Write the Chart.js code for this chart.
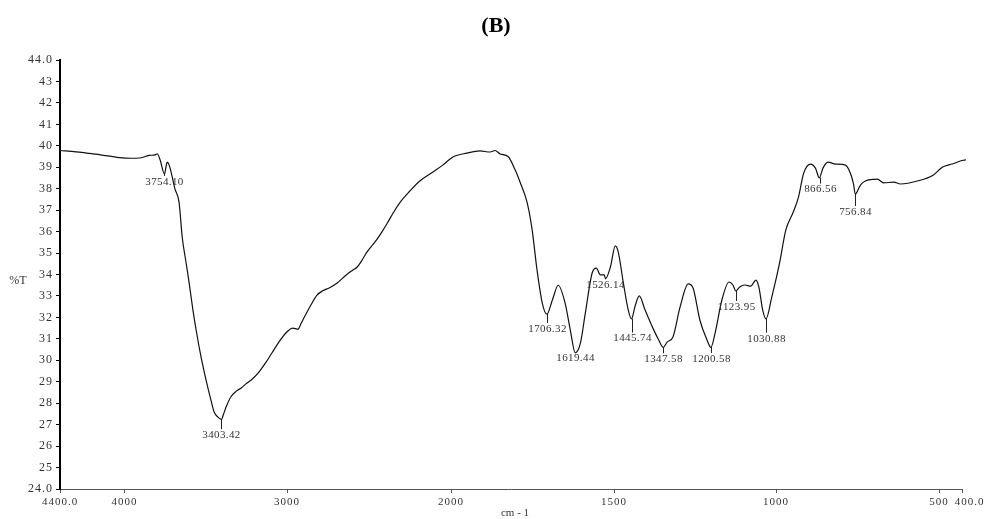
<!DOCTYPE html>
<html><head><meta charset="utf-8">
<script src="https://cdn.jsdelivr.net/npm/chart.js@4.4.1/dist/chart.umd.min.js"></script>
<style>html,body{margin:0;padding:0;background:#fff}#wrap{width:985px;height:519px;position:relative}</style>
</head><body><div id="wrap"><canvas id="c" width="985" height="519"></canvas></div>
<script>
const wavenumbers=[4400,4300,4234,4150,4032,3960,3909,3848,3810,3799,3781,3754,3745,3738,3725,3714,3690,3664,3645,3620,3602,3580,3559,3530,3498,3470,3449,3425,3403,3390,3376,3345,3314,3280,3253,3210,3173,3130,3093,3050,3001,2965,2933,2915,2897,2860,2817,2780,2743,2694,2639,2600,2572,2540,2517,2455,2420,2388,2350,2314,2250,2192,2110,2050,1994,1951,1911,1880,1865,1849,1825,1803,1788,1766,1751,1736,1720,1706,1689,1671,1650,1634,1619,1603,1588,1567,1554,1542,1530,1526,1511,1496,1487,1471,1456,1446,1434,1422,1404,1380,1362,1348,1336,1318,1296,1271,1256,1235,1213,1201,1188,1167,1145,1133,1124,1112,1096,1078,1062,1053,1041,1031,1013,989,970,947,931,915,894,879,867,856,840,818,787,772,762,757,741,726,689,670,639,618,566,517,486,443,383,357];
const transmittance=[39.78,39.72,39.66,39.58,39.45,39.42,39.43,39.55,39.58,39.63,39.35,38.68,39.0,39.24,39.1,38.8,38.0,37.35,35.75,34.5,33.6,32.4,31.4,30.2,29.08,28.2,27.6,27.35,27.25,27.5,27.8,28.3,28.55,28.72,28.9,29.15,29.45,29.9,30.34,30.85,31.32,31.5,31.45,31.7,31.97,32.5,33.04,33.25,33.37,33.6,33.98,34.2,34.35,34.7,35.0,35.6,36.0,36.4,36.9,37.33,37.9,38.35,38.78,39.1,39.48,39.66,39.76,39.71,39.78,39.62,39.5,38.87,38.3,37.33,36.07,34.2,32.67,32.15,32.81,33.5,32.67,31.41,30.35,30.8,32.2,34.07,34.3,33.98,33.98,33.8,34.35,35.33,35.05,33.6,32.34,31.93,32.58,33.0,32.34,31.5,30.95,30.6,30.85,31.09,32.49,33.56,33.37,31.88,30.95,30.6,31.27,32.81,33.65,33.51,33.23,33.42,33.51,33.46,33.74,33.42,32.34,31.93,32.95,34.54,36.07,36.91,37.61,38.73,39.15,38.96,38.5,38.96,39.24,39.15,39.1,38.73,38.2,37.75,38.17,38.36,38.45,38.27,38.31,38.22,38.36,38.64,39.0,39.15,39.34,39.0];
const peakWavenumbers=[3754.10,3403.42,1706.32,1619.44,1526.14,1445.74,1347.58,1200.58,1123.95,1030.88,866.56,756.84];
const peakLabels=['3754.10','3403.42','1706.32','1619.44','1526.14','1445.74','1347.58','1200.58','1123.95','1030.88','866.56','756.84'];
const xTickValues=[4400,4000,3000,2000,1500,1000,500,400];
const xTickLabels=['4400.0','4000','3000','2000','1500','1000','500','400.0'];
const yMin=24, yMax=44;
const titleText='(B)', yTitle='%T', xTitle='cm - 1';

// style: label offsets below each marked minimum (px)
const labelOffsets=[8,16,15,6,6,20,12,12,16,20,12,18];
// axis breaks: relative positions of the wavenumber ticks along the x axis
const axisKnotsW=[4400,4000,3000,2000,1500,1000,500,400];
const axisKnotsU=[0,64.5,227,391,554,716,879,902];
function toU(w){
  for(let i=0;i<axisKnotsW.length-1;i++){
    const a=axisKnotsW[i],b=axisKnotsW[i+1];
    if(w<=a&&w>=b){return axisKnotsU[i]+(a-w)/(a-b)*(axisKnotsU[i+1]-axisKnotsU[i]);}
  }
  const n=axisKnotsW.length-1;
  const s=(axisKnotsU[n]-axisKnotsU[n-1])/(axisKnotsW[n-1]-axisKnotsW[n]);
  if(w<axisKnotsW[n]) return axisKnotsU[n]+(axisKnotsW[n]-w)*s;
  return (axisKnotsW[0]-w)*(axisKnotsU[1]/(axisKnotsW[0]-axisKnotsW[1]));
}
function interpT(w){
  for(let i=0;i<wavenumbers.length-1;i++){
    const a=wavenumbers[i],b=wavenumbers[i+1];
    if(w<=a&&w>=b){return transmittance[i]+(a-w)/(a-b)*(transmittance[i+1]-transmittance[i]);}
  }
  return transmittance[transmittance.length-1];
}
const FONT='"Liberation Serif", "Times New Roman", serif';
const spacing={
  id:'spacing',
  beforeDraw(chart){ chart.ctx.letterSpacing='1px'; }
};
const annot={
  id:'annot',
  afterDraw(chart){
    const ctx=chart.ctx, xs=chart.scales.x, ys=chart.scales.y;
    ctx.save();
    ctx.letterSpacing='0px';
    ctx.fillStyle='#000';
    ctx.font='bold 22px '+FONT;
    ctx.textAlign='center';ctx.textBaseline='middle';
    ctx.fillText(titleText,496,26);
    ctx.fillStyle='#333';
    ctx.font='12px '+FONT;
    ctx.fillText(yTitle,18,281);
    ctx.font='11px '+FONT;
    ctx.fillText(xTitle,515,513);
    ctx.strokeStyle='#222';ctx.lineWidth=1;
    ctx.letterSpacing='0.4px';
    ctx.font='11px '+FONT;ctx.fillStyle='#333';
    peakWavenumbers.forEach((w,i)=>{
      const px=Math.round(xs.getPixelForValue(toU(w)))+0.5;
      const py=ys.getPixelForValue(interpT(w));
      const off=labelOffsets[i];
      const tl=off-6;
      if(tl>1){ctx.beginPath();ctx.moveTo(px,py);ctx.lineTo(px,py+tl);ctx.stroke();}
      ctx.fillText(peakLabels[i],px,py+off);
    });
    ctx.restore();
  }
};
new Chart(document.getElementById('c'),{
  type:'line',
  data:{datasets:[{
    data:wavenumbers.map((w,i)=>({x:toU(w),y:transmittance[i]})),
    borderColor:'#111',borderWidth:1.2,pointRadius:0,
    cubicInterpolationMode:'monotone',clip:false,fill:false
  }]},
  options:{
    responsive:false,animation:false,
    layout:{padding:{left:0,right:23,top:60,bottom:0}},
    plugins:{legend:{display:false},tooltip:{enabled:false},title:{display:false}},
    scales:{
      x:{type:'linear',min:0,max:axisKnotsU[axisKnotsU.length-1],
        afterBuildTicks:s=>{s.ticks=xTickValues.map(w=>({value:toU(w)}));},
        afterFit:s=>{s.height=30;},
        ticks:{autoSkip:false,maxRotation:0,padding:3,color:'#333',font:{family:FONT,size:11},
          callback:(v,i)=>(i===xTickLabels.length-1?'    ':'')+xTickLabels[i]},
        grid:{drawOnChartArea:false,drawTicks:true,tickLength:4,color:'#555'},
        border:{color:'#555',width:1}},
      y:{min:yMin,max:yMax,
        afterFit:s=>{s.width=60;},
        ticks:{stepSize:1,padding:3,color:'#333',font:{family:FONT,size:12},
          callback:v=>(v===yMin||v===yMax)?v.toFixed(1):String(v)},
        grid:{drawOnChartArea:false,drawTicks:true,tickLength:4,color:'#000'},
        border:{color:'#000',width:2}}
    }
  },
  plugins:[spacing,annot]
});
</script></body></html>
